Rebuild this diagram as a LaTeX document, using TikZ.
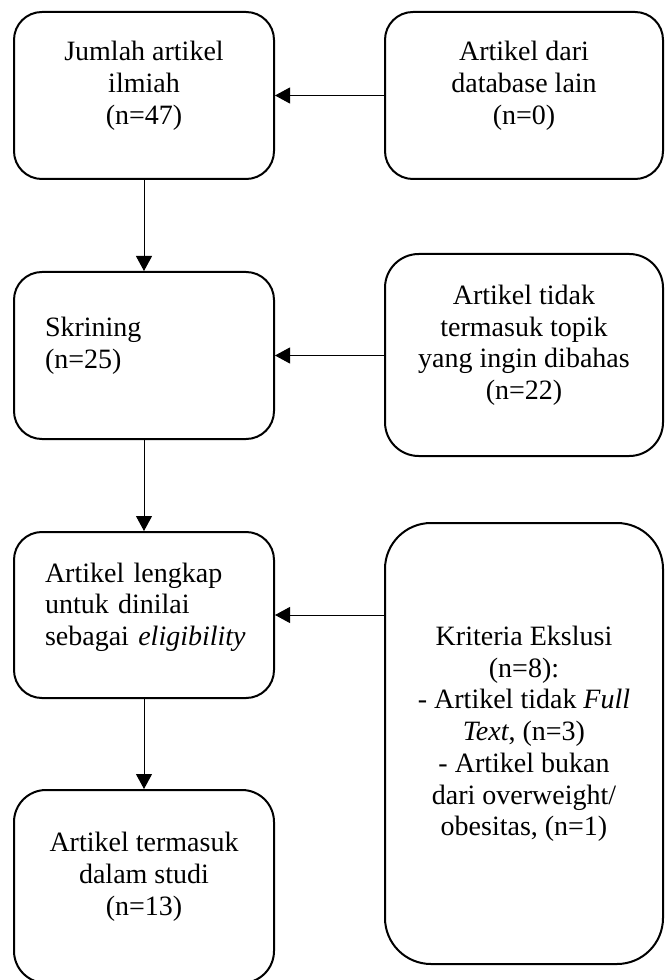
\documentclass[tikz,border=0pt]{standalone}
\usepackage{fontspec}
\setmainfont{Liberation Serif}
\usetikzlibrary{arrows.meta, positioning}

\begin{document}
\begin{tikzpicture}[
    x=0.75pt, y=-0.75pt,
    box/.style={rectangle, draw=black, line width=1.5pt, minimum width=195pt, minimum height=125.25pt, rounded corners=20.9pt, align=center, font=\fontsize{21}{23.8}\selectfont, text depth=19pt, inner sep=0pt},
    sidebox/.style={box, minimum width=208.5pt},
    leftbox/.style={box, align=left, text width=148.5pt},
    arrow/.style={-{Triangle[length=11.25pt, width=12pt]}, line width=0.75pt, black},
]
\useasboundingbox (0,0) rectangle (665,980);

% main column
\node[box] (jumlah) at (144, 95.5) {Jumlah artikel\\ilmiah\\(n=47)};
\node[leftbox, text depth=43.4pt] (skrining) at (144, 355.5) {Skrining\\(n=25)};
\node[leftbox, text depth=64pt, minimum height=124.5pt] (lengkap) at (144, 615) {Artikel lengkap\\untuk dinilai\\\mbox{sebagai \textit{eligibility}}};
\node[box, minimum height=144.75pt, rounded corners=24pt] (studi) at (144, 886.5) {Artikel termasuk\\dalam studi\\(n=13)};

% side column
\node[sidebox] (lain) at (524, 95.5) {Artikel dari\\database lain\\(n=0)};
\node[sidebox, minimum height=151.5pt, rounded corners=25.3pt] (topik) at (524, 355) {Artikel tidak\\termasuk topik\\yang ingin dibahas\\(n=22)};
\node[sidebox, minimum height=330.75pt, rounded corners=34.5pt] (eksklusi) at (524, 743.5) {Kriteria Ekslusi\\(n=8):\\- Artikel tidak \textit{Full}\\\textit{Text}, (n=3)\\- Artikel bukan\\dari overweight/\\obesitas, (n=1)};

\draw[arrow] (jumlah.south) -- (skrining.north);
\draw[arrow] (skrining.south) -- (lengkap.north);
\draw[arrow] (lengkap.south) -- (studi.north);

\draw[arrow] (lain.west |- jumlah.east) -- (jumlah.east);
\draw[arrow] (topik.west |- skrining.east) -- (skrining.east);
\draw[arrow] (eksklusi.west |- lengkap.east) -- (lengkap.east);

\end{tikzpicture}
\end{document}
